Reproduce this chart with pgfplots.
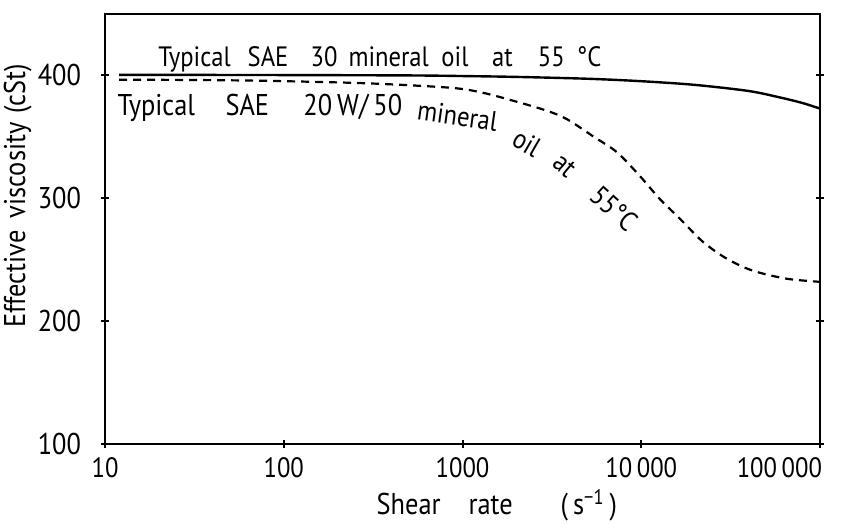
\documentclass[border=0pt]{standalone}
\usepackage{fontspec}
\setmainfont{PT Sans}[FakeStretch=0.88]
\usepackage{pgfplots}
\pgfplotsset{compat=1.18}

\begin{document}
\begin{tikzpicture}[font=\fontsize{14}{16}\selectfont]
\begin{axis}[
  name=ax,
  scale only axis,
  width=357.5pt, height=215pt,
  xmode=log,
  xmin=10, xmax=100000,
  ymin=100, ymax=450,
  xtick={10,100,1000,10000,100000},
  xticklabels={10,100,1000,10\,000,{\makebox[2pt][r]{100\,000}}},
  ytick={100,200,300,400},
  yticklabels={{100\hspace{5pt}},200,300,400},
  xminorticks=false,
  xtick pos=bottom,
  ytick pos=both,
  tick align=center,
  major tick length=4pt,
  axis line style={line width=1.3pt},
  every tick/.style={line width=1pt, black},
  /pgf/number format/assume math mode=true,
  xticklabel style={yshift=-1pt},
  yticklabel style={xshift=-6.5pt, font=\fontsize{15}{17}\selectfont},
  xlabel={Shear\hspace{14pt}rate\hspace{24pt}(\,s\textsuperscript{−1}\,)},
  ylabel={Effective\hspace{0.4em}viscosity\hspace{0.3em}(cSt)},
  xlabel style={at={(axis description cs:0.548,-0.142)}, anchor=center, font=\fontsize{15}{17}\selectfont},
  ylabel style={at={(axis description cs:-0.122,0.577)}, anchor=center, font=\fontsize{15}{17}\selectfont},
  clip=false,
]
% SAE 30: nearly Newtonian
\addplot[black, line width=1.2pt, smooth] coordinates {
  (12,400.5) (100,400.3) (500,400) (1000,399.5) (2000,398.8) (5000,397.3)
  (10000,395.3) (20000,392.3) (40000,387.3) (60000,382) (80000,377.5) (100000,373)
};
% SAE 20W/50: shear thinning
\addplot[black, line width=1.1pt, smooth, dash pattern=on 4pt off 3pt] coordinates {
  (12,396.5) (30,396.3) (80,395.6) (290,393.6) (850,390) (1290,386) (2020,378.5)
  (3000,371) (3850,364.3) (5370,350.5) (7310,337.5) (9840,318) (12700,299.4)
  (16500,283.2) (22150,264.5) (30200,250.7) (42200,241) (65300,234.5) (100000,232)
};
% label of the solid curve
\begin{scope}[every node/.style={anchor=base west, inner sep=0pt}]
\node at (axis description cs:0.074,0.877) {Typical};
\node at (axis description cs:0.199,0.877) {SAE};
\node at (axis description cs:0.287,0.877) {30};
\node at (axis description cs:0.340,0.877) {mineral};
\node at (axis description cs:0.470,0.877) {oil};
\node at (axis description cs:0.541,0.877) {at};
\node at (axis description cs:0.605,0.877) {55\hspace{6pt}°C};
\end{scope}
% label of the dashed curve
\begin{scope}[every node/.style={anchor=base west, inner sep=0pt, font=\fontsize{15}{17}\selectfont}]
\node at (axis description cs:0.017,0.765) {Typical};
\node at (axis description cs:0.168,0.765) {SAE};
\node at (axis description cs:0.277,0.765) {20\,W/\,50};
\end{scope}
\begin{scope}[every node/.style={inner sep=0pt}]
\node[rotate=-8]  at (axis description cs:0.493,0.763) {mineral};
\node[rotate=-30] at (axis description cs:0.590,0.700) {oil};
\node[rotate=-40] at (axis description cs:0.643,0.648) {at};
\node[rotate=-42] at (axis description cs:0.712,0.547) {55°C};
\end{scope}
\end{axis}
\pgfresetboundingbox
\path[use as bounding box] ([shift={(-52.5pt,-40pt)}]ax.south west) rectangle ([shift={(12.5pt,7pt)}]ax.north east);
\end{tikzpicture}
\end{document}
